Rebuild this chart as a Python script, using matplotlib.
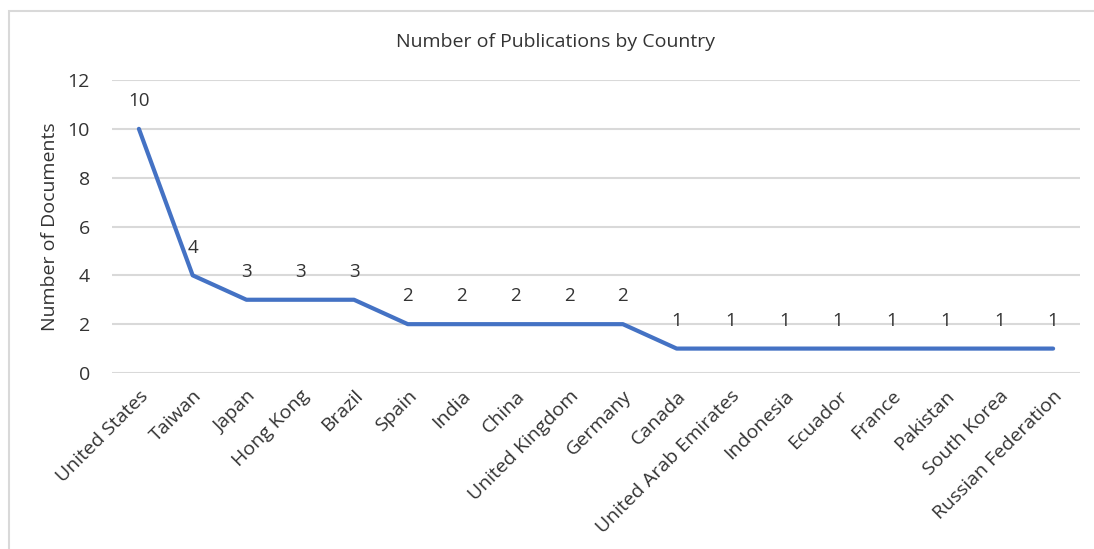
import matplotlib.pyplot as plt
from matplotlib.patches import Rectangle

plt.rcParams['font.family'] = ['Open Sans', 'DejaVu Sans']

countries = ['United States', 'Taiwan', 'Japan', 'Hong Kong', 'Brazil', 'Spain',
             'India', 'China', 'United Kingdom', 'Germany', 'Canada',
             'United Arab Emirates', 'Indonesia', 'Ecuador', 'France',
             'Pakistan', 'South Korea', 'Russian Federation']
documents = [10, 4, 3, 3, 3, 2, 2, 2, 2, 2, 1, 1, 1, 1, 1, 1, 1, 1]
y_ticks = [0, 2, 4, 6, 8, 10, 12]

text_color = '#333333'
grid_color = '#D9D9D9'

fig = plt.figure(figsize=(10.94, 5.49), dpi=100)
ax = fig.add_axes([112 / 1094, 1 - 373 / 549, 968 / 1094, 293 / 549])

# outer chart frame
fig.patches.append(Rectangle((9 / 1094, -0.1), 1.2, 1 - 11 / 549 + 0.1,
                             transform=fig.transFigure, fill=False,
                             edgecolor=grid_color, linewidth=1.5))

x = range(len(countries))
ax.plot(x, documents, color='#4472C4', linewidth=3, solid_capstyle='round',
        solid_joinstyle='round', zorder=3)

for xi, val in zip(x, documents):
    ax.annotate(str(val), (xi, val), xytext=(0, 20), textcoords='offset points',
                ha='center', va='center', fontsize=13.5, color=text_color, zorder=4)

ax.set_xlim(-0.5, len(countries) - 0.5)
ax.set_ylim(0, 12)
ax.set_yticks(y_ticks)
ax.set_xticks(list(x))
ax.set_xticklabels(countries, rotation=45, ha='right', va='top',
                   rotation_mode='anchor')
ax.tick_params(axis='both', length=0, labelsize=14, labelcolor=text_color)
ax.tick_params(axis='y', pad=16)
ax.tick_params(axis='x', pad=10)

ax.grid(axis='y', color=grid_color, linewidth=1.5)
ax.set_axisbelow(True)
for spine in ax.spines.values():
    spine.set_visible(False)

ax.set_ylabel('Number of Documents', fontsize=14, color=text_color, labelpad=6)
fig.text(556 / 1094, 1 - 42 / 549, 'Number of Publications by Country',
         ha='center', va='center', fontsize=14, color=text_color)

fig.savefig('out.png', dpi=100)
